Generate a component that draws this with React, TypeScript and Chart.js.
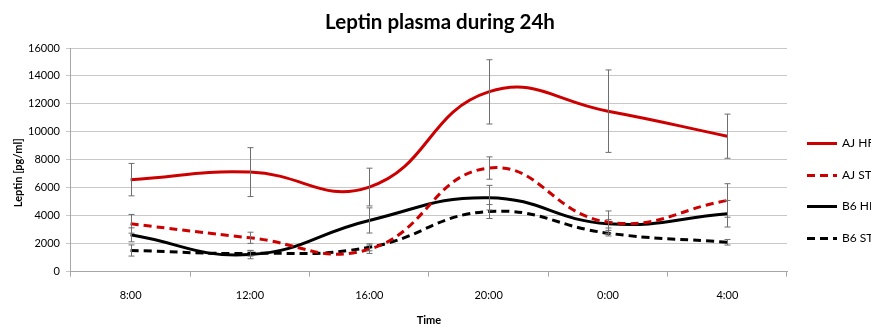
import React, { useEffect, useRef } from 'react';
import { Chart, registerables } from 'chart.js';

Chart.register(...registerables);

const categories = ['8:00', '12:00', '16:00', '20:00', '0:00', '4:00'];
const ajHF = [6580, 7120, 6050, 12860, 11480, 9690];
const ajHFErr = [1160, 1750, 1350, 2300, 2950, 1580];
const ajST = [3420, 2420, 1600, 7410, 3540, 5090];
const ajSTErr = [670, 400, 300, 800, 800, 1200];
const b6HF = [2630, 1220, 3660, 5290, 3420, 4140];
const b6HFErr = [500, 300, 900, 880, 300, 950];
const b6ST = [1510, 1310, 1740, 4300, 2750, 2100];
const b6STErr = [400, 200, 250, 500, 200, 200];
const seriesNames = ['AJ HF', 'AJ ST', 'B6 HF', 'B6 ST'];
const chartTitle = 'Leptin plasma during 24h';
const yTitle = 'Leptin [pg/ml]';
const xTitle = 'Time';
const yMin = 0;
const yMax = 16000;
const yStep = 2000;

const RED = '#cc0000';
const BLACK = '#000000';
const FONT = 'Lato';

const errorBarPlugin = {
  id: 'errorBars',
  afterDatasetsDraw(chart: any) {
    const ctx = chart.ctx;
    const yScale = chart.scales.y;
    ctx.save();
    ctx.strokeStyle = '#6e6e6e';
    ctx.lineWidth = 1;
    chart.data.datasets.forEach((ds: any, i: number) => {
      const meta = chart.getDatasetMeta(i);
      const errs: number[] = ds.errors || [];
      meta.data.forEach((pt: any, j: number) => {
        const v = ds.data[j];
        const e = errs[j];
        if (v == null || e == null) return;
        const x = Math.round(pt.x) + 0.5;
        const yt = yScale.getPixelForValue(v + e);
        const yb = yScale.getPixelForValue(v - e);
        ctx.beginPath();
        ctx.moveTo(x, yt);
        ctx.lineTo(x, yb);
        ctx.moveTo(x - 3, yt);
        ctx.lineTo(x + 3, yt);
        ctx.moveTo(x - 3, yb);
        ctx.lineTo(x + 3, yb);
        ctx.stroke();
      });
    });
    ctx.restore();
  },
};

const decorPlugin = {
  id: 'decor',
  afterDraw(chart: any) {
    const ctx = chart.ctx;
    const area = chart.chartArea;
    ctx.save();
    // chart title
    ctx.fillStyle = '#000';
    ctx.font = `bold 20.5px ${FONT}`;
    ctx.textAlign = 'center';
    ctx.textBaseline = 'middle';
    ctx.fillText(chartTitle, 440, 22);
    // y axis title
    ctx.save();
    ctx.translate(18, (area.top + area.bottom) / 2 + 13);
    ctx.rotate(-Math.PI / 2);
    ctx.font = `bold 11px ${FONT}`;
    ctx.fillText(yTitle, 0, 0);
    ctx.restore();
    // legend
    const x0 = area.right + 20;
    const y0 = area.top + 95;
    const gap = 31.5;
    ctx.font = `12px ${FONT}`;
    ctx.textAlign = 'left';
    chart.data.datasets.forEach((ds: any, i: number) => {
      const y = Math.round(y0 + i * gap) + 0.5;
      ctx.strokeStyle = ds.borderColor;
      ctx.lineWidth = 3;
      ctx.setLineDash(ds.borderDash || []);
      ctx.beginPath();
      ctx.moveTo(x0, y);
      ctx.lineTo(x0 + 30, y);
      ctx.stroke();
      ctx.setLineDash([]);
      ctx.fillStyle = '#000';
      ctx.fillText(ds.label, x0 + 35, y);
    });
    ctx.restore();
  },
};

export default function App() {
  const canvasRef = useRef<HTMLCanvasElement | null>(null);

  useEffect(() => {
    const canvas = canvasRef.current;
    if (!canvas) return;
    const mk = (label: string, data: number[], errors: number[], color: string, dash: number[]) => ({
      label,
      data,
      errors,
      borderColor: color,
      backgroundColor: color,
      borderWidth: 3,
      borderDash: dash,
      pointRadius: 0,
      tension: 0.45,
      fill: false,
    });
    const chart = new Chart(canvas, {
      type: 'line',
      data: {
        labels: categories,
        datasets: [
          mk(seriesNames[0], ajHF, ajHFErr, RED, []),
          mk(seriesNames[1], ajST, ajSTErr, RED, [8, 5]),
          mk(seriesNames[2], b6HF, b6HFErr, BLACK, []),
          mk(seriesNames[3], b6ST, b6STErr, BLACK, [8, 5]),
        ] as any,
      },
      options: {
        animation: false,
        responsive: false,
        layout: { padding: { left: 22, right: 84, top: 48, bottom: 0 } },
        plugins: {
          legend: { display: false },
          tooltip: { enabled: false },
          title: { display: false },
        },
        scales: {
          x: {
            offset: true,
            grid: {
              offset: true,
              drawOnChartArea: false,
              drawTicks: true,
              tickLength: 5,
              color: '#a6a6a6',
            },
            border: { color: '#a6a6a6' },
            ticks: { color: '#000', font: { family: FONT, size: 11 }, padding: 12 },
            title: {
              display: true,
              text: xTitle,
              color: '#000',
              font: { family: FONT, size: 11, weight: 'bold' },
              padding: { top: 0, bottom: 0 },
            },
          },
          y: {
            min: yMin,
            max: yMax,
            ticks: {
              stepSize: yStep,
              color: '#000',
              font: { family: FONT, size: 11 },
              padding: 6,
              callback: (v: any) => String(v),
            },
            grid: { color: '#c8c8c8', tickLength: 5, drawTicks: true },
            border: { color: '#a6a6a6' },
            title: { display: false },
          },
        },
      },
      plugins: [errorBarPlugin, decorPlugin],
    });
    return () => chart.destroy();
  }, []);

  return (
    <div style={{ position: 'fixed', left: 0, top: 0, width: 871, height: 327, background: '#fff' }}>
      <canvas ref={canvasRef} width={871} height={327} />
    </div>
  );
}
